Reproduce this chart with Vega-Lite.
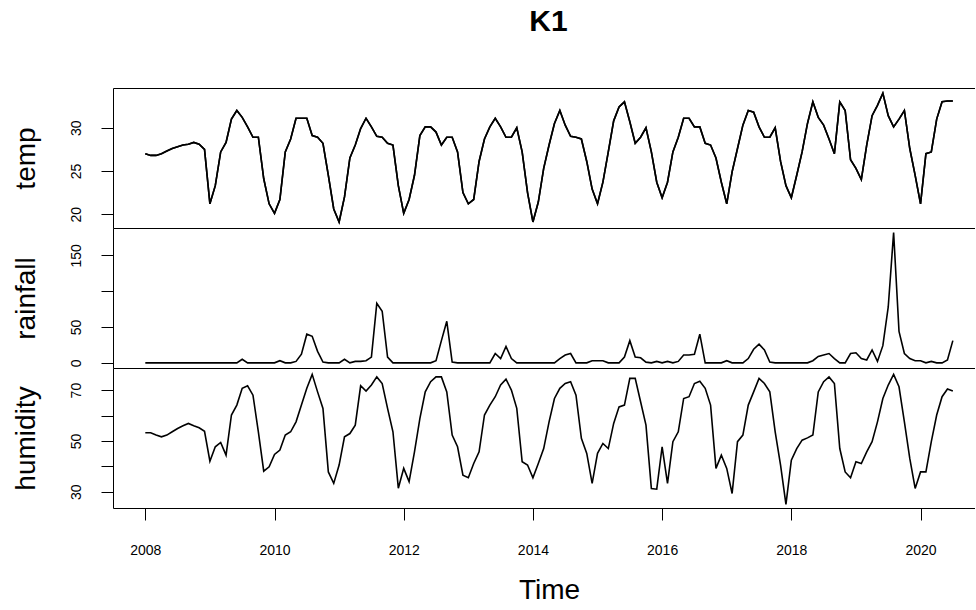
{
  "$schema": "https://vega.github.io/schema/vega-lite/v6.json",
  "padding": {"left": 12, "top": 7, "right": 0, "bottom": 0},
  "background": "white",
  "title": {"text": "K1", "fontSize": 30, "fontWeight": "bold", "font": "Liberation Sans", "color": "black", "anchor": "middle", "offset": 51, "dx": 55},
  "datasets": {
    "ts": [
      {"t":2008.0000,"temp":27.0,"rainfall":0,"humidity":53.2},
      {"t":2008.0833,"temp":26.8,"rainfall":0,"humidity":53.2},
      {"t":2008.1667,"temp":26.8,"rainfall":0,"humidity":52.3},
      {"t":2008.2500,"temp":27.0,"rainfall":0,"humidity":51.6},
      {"t":2008.3333,"temp":27.3,"rainfall":0,"humidity":52.3},
      {"t":2008.4167,"temp":27.6,"rainfall":0,"humidity":53.6},
      {"t":2008.5000,"temp":27.8,"rainfall":0,"humidity":54.9},
      {"t":2008.5833,"temp":28.0,"rainfall":0,"humidity":56.0},
      {"t":2008.6667,"temp":28.1,"rainfall":0,"humidity":56.9},
      {"t":2008.7500,"temp":28.3,"rainfall":0,"humidity":56.0},
      {"t":2008.8333,"temp":28.1,"rainfall":0,"humidity":55.2},
      {"t":2008.9167,"temp":27.5,"rainfall":0,"humidity":53.8},
      {"t":2009.0000,"temp":21.2,"rainfall":0,"humidity":42.0},
      {"t":2009.0833,"temp":23.3,"rainfall":0,"humidity":47.7},
      {"t":2009.1667,"temp":27.2,"rainfall":0,"humidity":49.4},
      {"t":2009.2500,"temp":28.3,"rainfall":0,"humidity":44.4},
      {"t":2009.3333,"temp":31.0,"rainfall":0,"humidity":60.2},
      {"t":2009.4167,"temp":32.0,"rainfall":0,"humidity":64.1},
      {"t":2009.5000,"temp":31.2,"rainfall":5,"humidity":70.7},
      {"t":2009.5833,"temp":30.1,"rainfall":0,"humidity":71.7},
      {"t":2009.6667,"temp":28.9,"rainfall":0,"humidity":68.0},
      {"t":2009.7500,"temp":28.9,"rainfall":0,"humidity":53.6},
      {"t":2009.8333,"temp":24.1,"rainfall":0,"humidity":38.1},
      {"t":2009.9167,"temp":21.2,"rainfall":0,"humidity":39.8},
      {"t":2010.0000,"temp":20.1,"rainfall":0,"humidity":44.7},
      {"t":2010.0833,"temp":21.7,"rainfall":3,"humidity":46.4},
      {"t":2010.1667,"temp":27.2,"rainfall":0,"humidity":52.3},
      {"t":2010.2500,"temp":28.7,"rainfall":0,"humidity":53.6},
      {"t":2010.3333,"temp":31.1,"rainfall":2,"humidity":57.5},
      {"t":2010.4167,"temp":31.1,"rainfall":12,"humidity":64.1},
      {"t":2010.5000,"temp":31.1,"rainfall":40,"humidity":70.7},
      {"t":2010.5833,"temp":29.1,"rainfall":37,"humidity":76.2},
      {"t":2010.6667,"temp":28.9,"rainfall":16,"humidity":69.3},
      {"t":2010.7500,"temp":28.2,"rainfall":1,"humidity":62.8},
      {"t":2010.8333,"temp":24.5,"rainfall":0,"humidity":37.8},
      {"t":2010.9167,"temp":20.6,"rainfall":0,"humidity":33.3},
      {"t":2011.0000,"temp":19.1,"rainfall":0,"humidity":40.5},
      {"t":2011.0833,"temp":22.0,"rainfall":5,"humidity":51.6},
      {"t":2011.1667,"temp":26.5,"rainfall":0,"humidity":52.9},
      {"t":2011.2500,"temp":28.0,"rainfall":2,"humidity":56.2},
      {"t":2011.3333,"temp":29.9,"rainfall":2,"humidity":71.7},
      {"t":2011.4167,"temp":31.1,"rainfall":3,"humidity":69.6},
      {"t":2011.5000,"temp":30.1,"rainfall":8,"humidity":72.0},
      {"t":2011.5833,"temp":29.0,"rainfall":83,"humidity":75.2},
      {"t":2011.6667,"temp":28.9,"rainfall":72,"humidity":72.6},
      {"t":2011.7500,"temp":28.2,"rainfall":8,"humidity":62.8},
      {"t":2011.8333,"temp":28.0,"rainfall":0,"humidity":53.6},
      {"t":2011.9167,"temp":23.3,"rainfall":0,"humidity":31.4},
      {"t":2012.0000,"temp":20.1,"rainfall":0,"humidity":39.2},
      {"t":2012.0833,"temp":21.7,"rainfall":0,"humidity":34.0},
      {"t":2012.1667,"temp":24.5,"rainfall":0,"humidity":45.7},
      {"t":2012.2500,"temp":29.1,"rainfall":0,"humidity":58.8},
      {"t":2012.3333,"temp":30.1,"rainfall":0,"humidity":69.3},
      {"t":2012.4167,"temp":30.1,"rainfall":0,"humidity":73.3},
      {"t":2012.5000,"temp":29.5,"rainfall":3,"humidity":75.2},
      {"t":2012.5833,"temp":28.0,"rainfall":31,"humidity":75.2},
      {"t":2012.6667,"temp":28.9,"rainfall":58,"humidity":69.3},
      {"t":2012.7500,"temp":28.9,"rainfall":1,"humidity":52.3},
      {"t":2012.8333,"temp":27.2,"rainfall":0,"humidity":47.7},
      {"t":2012.9167,"temp":22.5,"rainfall":0,"humidity":36.5},
      {"t":2013.0000,"temp":21.2,"rainfall":0,"humidity":35.5},
      {"t":2013.0833,"temp":21.7,"rainfall":0,"humidity":41.1},
      {"t":2013.1667,"temp":26.1,"rainfall":0,"humidity":45.7},
      {"t":2013.2500,"temp":28.7,"rainfall":0,"humidity":60.2},
      {"t":2013.3333,"temp":30.1,"rainfall":0,"humidity":64.1},
      {"t":2013.4167,"temp":31.1,"rainfall":13,"humidity":67.4},
      {"t":2013.5000,"temp":30.1,"rainfall":6,"humidity":72.0},
      {"t":2013.5833,"temp":28.9,"rainfall":23,"humidity":74.3},
      {"t":2013.6667,"temp":28.9,"rainfall":6,"humidity":70.0},
      {"t":2013.7500,"temp":30.0,"rainfall":0,"humidity":62.8},
      {"t":2013.8333,"temp":27.2,"rainfall":0,"humidity":41.8},
      {"t":2013.9167,"temp":22.5,"rainfall":0,"humidity":40.5},
      {"t":2014.0000,"temp":19.1,"rainfall":0,"humidity":35.5},
      {"t":2014.0833,"temp":21.4,"rainfall":0,"humidity":41.1},
      {"t":2014.1667,"temp":25.3,"rainfall":0,"humidity":47.0},
      {"t":2014.2500,"temp":28.0,"rainfall":0,"humidity":57.5},
      {"t":2014.3333,"temp":30.5,"rainfall":0,"humidity":66.7},
      {"t":2014.4167,"temp":32.0,"rainfall":6,"humidity":70.7},
      {"t":2014.5000,"temp":30.3,"rainfall":11,"humidity":72.6},
      {"t":2014.5833,"temp":29.0,"rainfall":13,"humidity":73.3},
      {"t":2014.6667,"temp":28.9,"rainfall":0,"humidity":68.0},
      {"t":2014.7500,"temp":28.7,"rainfall":0,"humidity":51.0},
      {"t":2014.8333,"temp":26.1,"rainfall":0,"humidity":45.1},
      {"t":2014.9167,"temp":22.9,"rainfall":3,"humidity":33.3},
      {"t":2015.0000,"temp":21.2,"rainfall":3,"humidity":45.1},
      {"t":2015.0833,"temp":23.7,"rainfall":3,"humidity":49.0},
      {"t":2015.1667,"temp":27.2,"rainfall":0,"humidity":47.0},
      {"t":2015.2500,"temp":30.8,"rainfall":0,"humidity":56.9},
      {"t":2015.3333,"temp":32.4,"rainfall":0,"humidity":63.4},
      {"t":2015.4167,"temp":33.0,"rainfall":8,"humidity":64.1},
      {"t":2015.5000,"temp":30.7,"rainfall":31,"humidity":74.6},
      {"t":2015.5833,"temp":28.2,"rainfall":8,"humidity":74.6},
      {"t":2015.6667,"temp":28.9,"rainfall":7,"humidity":65.4},
      {"t":2015.7500,"temp":30.0,"rainfall":1,"humidity":56.2},
      {"t":2015.8333,"temp":27.2,"rainfall":0,"humidity":31.3},
      {"t":2015.9167,"temp":23.7,"rainfall":2,"humidity":31.0},
      {"t":2016.0000,"temp":21.9,"rainfall":0,"humidity":47.7},
      {"t":2016.0833,"temp":23.7,"rainfall":2,"humidity":33.3},
      {"t":2016.1667,"temp":27.2,"rainfall":0,"humidity":49.7},
      {"t":2016.2500,"temp":28.9,"rainfall":2,"humidity":53.6},
      {"t":2016.3333,"temp":31.1,"rainfall":11,"humidity":66.7},
      {"t":2016.4167,"temp":31.1,"rainfall":11,"humidity":67.4},
      {"t":2016.5000,"temp":30.1,"rainfall":12,"humidity":72.6},
      {"t":2016.5833,"temp":30.1,"rainfall":40,"humidity":73.5},
      {"t":2016.6667,"temp":28.2,"rainfall":0,"humidity":70.7},
      {"t":2016.7500,"temp":28.0,"rainfall":0,"humidity":64.1},
      {"t":2016.8333,"temp":26.5,"rainfall":0,"humidity":39.2},
      {"t":2016.9167,"temp":23.7,"rainfall":0,"humidity":44.4},
      {"t":2017.0000,"temp":21.2,"rainfall":3,"humidity":39.2},
      {"t":2017.0833,"temp":24.9,"rainfall":0,"humidity":29.3},
      {"t":2017.1667,"temp":27.6,"rainfall":0,"humidity":49.7},
      {"t":2017.2500,"temp":30.3,"rainfall":0,"humidity":52.3},
      {"t":2017.3333,"temp":32.0,"rainfall":6,"humidity":64.1},
      {"t":2017.4167,"temp":31.8,"rainfall":19,"humidity":69.3},
      {"t":2017.5000,"temp":30.1,"rainfall":26,"humidity":74.6},
      {"t":2017.5833,"temp":28.9,"rainfall":18,"humidity":72.6},
      {"t":2017.6667,"temp":28.9,"rainfall":1,"humidity":69.3},
      {"t":2017.7500,"temp":30.0,"rainfall":0,"humidity":53.6},
      {"t":2017.8333,"temp":26.1,"rainfall":0,"humidity":40.5},
      {"t":2017.9167,"temp":23.3,"rainfall":0,"humidity":25.0},
      {"t":2018.0000,"temp":21.9,"rainfall":0,"humidity":42.4},
      {"t":2018.0833,"temp":24.5,"rainfall":0,"humidity":47.0},
      {"t":2018.1667,"temp":27.2,"rainfall":0,"humidity":50.3},
      {"t":2018.2500,"temp":30.5,"rainfall":0,"humidity":51.2},
      {"t":2018.3333,"temp":33.0,"rainfall":3,"humidity":52.3},
      {"t":2018.4167,"temp":31.2,"rainfall":9,"humidity":69.3},
      {"t":2018.5000,"temp":30.3,"rainfall":11,"humidity":73.3},
      {"t":2018.5833,"temp":28.7,"rainfall":13,"humidity":75.2},
      {"t":2018.6667,"temp":27.0,"rainfall":6,"humidity":72.6},
      {"t":2018.7500,"temp":33.0,"rainfall":0,"humidity":47.0},
      {"t":2018.8333,"temp":32.0,"rainfall":0,"humidity":37.8},
      {"t":2018.9167,"temp":26.3,"rainfall":13,"humidity":35.5},
      {"t":2019.0000,"temp":25.3,"rainfall":14,"humidity":41.8},
      {"t":2019.0833,"temp":24.0,"rainfall":6,"humidity":41.1},
      {"t":2019.1667,"temp":28.0,"rainfall":4,"humidity":45.7},
      {"t":2019.2500,"temp":31.4,"rainfall":18,"humidity":49.7},
      {"t":2019.3333,"temp":32.6,"rainfall":2,"humidity":57.5},
      {"t":2019.4167,"temp":34.0,"rainfall":24,"humidity":66.7},
      {"t":2019.5000,"temp":31.4,"rainfall":78,"humidity":72.0},
      {"t":2019.5833,"temp":30.1,"rainfall":182,"humidity":76.2},
      {"t":2019.6667,"temp":31.0,"rainfall":44,"humidity":71.3},
      {"t":2019.7500,"temp":32.0,"rainfall":13,"humidity":57.5},
      {"t":2019.8333,"temp":27.6,"rainfall":6,"humidity":43.1},
      {"t":2019.9167,"temp":24.5,"rainfall":3,"humidity":31.3},
      {"t":2020.0000,"temp":21.2,"rainfall":3,"humidity":37.8},
      {"t":2020.0833,"temp":27.0,"rainfall":0,"humidity":37.8},
      {"t":2020.1667,"temp":27.2,"rainfall":2,"humidity":49.7},
      {"t":2020.2500,"temp":31.0,"rainfall":0,"humidity":60.2},
      {"t":2020.3333,"temp":33.0,"rainfall":0,"humidity":67.4},
      {"t":2020.4167,"temp":33.1,"rainfall":4,"humidity":70.4},
      {"t":2020.5000,"temp":33.1,"rainfall":31,"humidity":69.6}
    ]
  },
  "spacing": 0,
  "vconcat": [
    {
      "width": 862,
      "height": 140,
      "data": {"name": "ts"},
      "layer": [
        {
          "mark": {"type": "line", "color": "black", "strokeWidth": 1.6},
          "encoding": {
            "x": {"field": "t", "type": "quantitative", "scale": {"domain": [2007.5, 2020.843], "nice": false, "zero": false},
                  "axis": {"orient": "bottom", "labels": false, "ticks": false, "title": null}},
            "y": {"field": "temp", "type": "quantitative", "scale": {"domain": [18.4, 34.6], "nice": false, "zero": false},
                  "axis": {"title": "temp", "values": [20, 25, 30]}}
          }
        },
        {
          "mark": {"type": "line", "color": "black", "strokeWidth": 1.6},
          "encoding": {
            "x": {"field": "t", "type": "quantitative", "scale": {"domain": [2007.5, 2020.843], "nice": false, "zero": false},
                  "axis": {"orient": "top", "labels": false, "ticks": false, "title": null}},
            "y": {"field": "temp", "type": "quantitative"}
          }
        }
      ],
      "resolve": {"axis": {"x": "independent"}}
    },
    {
      "width": 862,
      "height": 140,
      "data": {"name": "ts"},
      "mark": {"type": "line", "color": "black", "strokeWidth": 1.6},
      "encoding": {
        "x": {"field": "t", "type": "quantitative", "scale": {"domain": [2007.5, 2020.843], "nice": false, "zero": false},
              "axis": {"orient": "bottom", "labels": false, "ticks": false, "title": null}},
        "y": {"field": "rainfall", "type": "quantitative", "scale": {"domain": [-7.2, 188.2], "nice": false, "zero": false},
              "axis": {"title": "rainfall", "values": [0, 50, 100, 150], "labelExpr": "datum.value == 100 ? '' : datum.label"}}
      }
    },
    {
      "width": 862,
      "height": 140,
      "data": {"name": "ts"},
      "mark": {"type": "line", "color": "black", "strokeWidth": 1.6},
      "encoding": {
        "x": {"field": "t", "type": "quantitative", "scale": {"domain": [2007.5, 2020.843], "nice": false, "zero": false},
              "axis": {"orient": "bottom", "title": "Time", "values": [2008, 2010, 2012, 2014, 2016, 2018, 2020], "format": "d", "labelPadding": 23, "titlePadding": 19, "titleX": 436, "titleAlign": "center"}},
        "y": {"field": "humidity", "type": "quantitative", "scale": {"domain": [23.6, 78.7], "nice": false, "zero": false},
              "axis": {"title": "humidity", "values": [30, 40, 50, 60, 70], "labelExpr": "datum.value % 20 == 10 ? datum.label : ''"}}
      }
    }
  ],
  "config": {
    "font": "Liberation Sans",
    "view": {"stroke": null},
    "axis": {
      "grid": false,
      "domainColor": "black",
      "domainWidth": 1,
      "tickColor": "black",
      "tickWidth": 1,
      "tickSize": 12,
      "labelColor": "black",
      "labelFont": "Liberation Sans",
      "labelFontSize": 14,
      "titleColor": "black",
      "titleFont": "Liberation Sans",
      "titleFontSize": 28,
      "titleFontWeight": "normal"
    },
    "axisX": {"labelFlush": false, "labelOverlap": false},
    "axisY": {
      "labelAngle": 270,
      "labelAlign": "center",
      "labelBaseline": "alphabetic",
      "labelPadding": 21,
      "labelOverlap": false,
      "titleAngle": 270,
      "titleBaseline": "alphabetic",
      "titleX": -79
    }
  }
}
